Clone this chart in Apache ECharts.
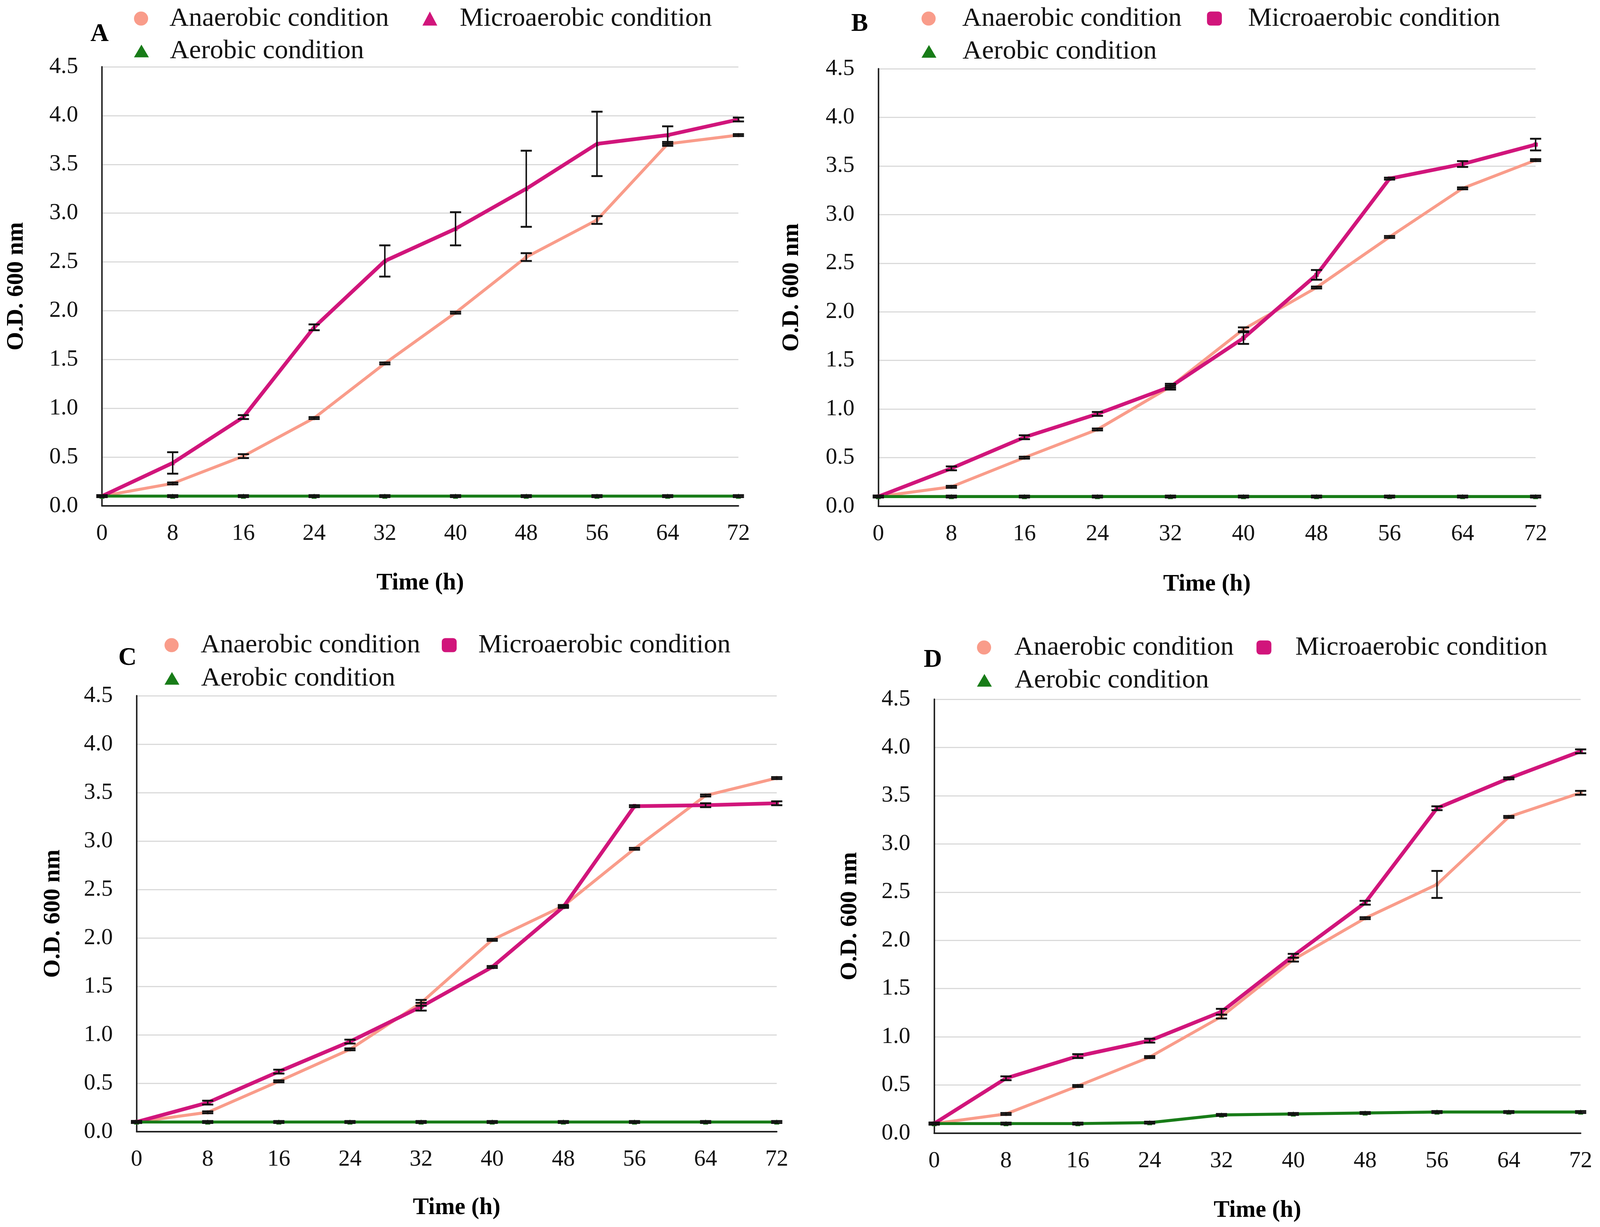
<!DOCTYPE html>
<html>
<head>
<meta charset="utf-8">
<script src="https://cdn.jsdelivr.net/npm/echarts@6/dist/echarts.min.js"></script>
<style>
html,body{margin:0;padding:0;background:#fff;overflow:hidden;}
#chart{position:absolute;left:0;top:0;}
</style>
</head>
<body>
<div id="chart"></div>
<script>
// ---- data ----
const times = [0, 8, 16, 24, 32, 40, 48, 56, 64, 72];
const seriesNames = ['Anaerobic condition', 'Microaerobic condition', 'Aerobic condition'];
const panelLetters = ['A', 'B', 'C', 'D'];

const aAnaerobic    = [0.10, 0.23, 0.51, 0.90, 1.46, 1.98, 2.55, 2.93, 3.71, 3.80];
const aAnaerobicErr = [0.01, 0.01, 0.02, 0.01, 0.01, 0.01, 0.04, 0.04, 0.02, 0.01];
const aMicro        = [0.10, 0.44, 0.91, 1.83, 2.51, 2.84, 3.25, 3.71, 3.80, 3.96];
const aMicroErr     = [0.01, 0.11, 0.02, 0.03, 0.16, 0.17, 0.39, 0.33, 0.09, 0.02];
const aAerobic      = [0.10, 0.10, 0.10, 0.10, 0.10, 0.10, 0.10, 0.10, 0.10, 0.10];
const aAerobicErr   = [0.01, 0.01, 0.01, 0.01, 0.01, 0.01, 0.01, 0.01, 0.01, 0.01];

const bAnaerobic    = [0.10, 0.20, 0.50, 0.79, 1.23, 1.82, 2.25, 2.77, 3.27, 3.56];
const bAnaerobicErr = [0.01, 0.01, 0.01, 0.01, 0.01, 0.02, 0.01, 0.01, 0.01, 0.01];
const bMicro        = [0.10, 0.39, 0.71, 0.95, 1.23, 1.73, 2.38, 3.37, 3.52, 3.72];
const bMicroErr     = [0.01, 0.02, 0.02, 0.02, 0.03, 0.06, 0.05, 0.01, 0.03, 0.06];
const bAerobic      = [0.10, 0.10, 0.10, 0.10, 0.10, 0.10, 0.10, 0.10, 0.10, 0.10];
const bAerobicErr   = [0.01, 0.01, 0.01, 0.01, 0.01, 0.01, 0.01, 0.01, 0.01, 0.01];

const cAnaerobic    = [0.10, 0.20, 0.52, 0.85, 1.33, 1.98, 2.33, 2.92, 3.47, 3.65];
const cAnaerobicErr = [0.01, 0.01, 0.01, 0.01, 0.03, 0.01, 0.01, 0.01, 0.01, 0.01];
const cMicro        = [0.10, 0.30, 0.62, 0.93, 1.29, 1.70, 2.32, 3.36, 3.37, 3.39];
const cMicroErr     = [0.01, 0.02, 0.02, 0.02, 0.04, 0.01, 0.01, 0.01, 0.02, 0.02];
const cAerobic      = [0.10, 0.10, 0.10, 0.10, 0.10, 0.10, 0.10, 0.10, 0.10, 0.10];
const cAerobicErr   = [0.01, 0.01, 0.01, 0.01, 0.01, 0.01, 0.01, 0.01, 0.01, 0.01];

const dAnaerobic    = [0.10, 0.20, 0.49, 0.79, 1.21, 1.80, 2.23, 2.58, 3.28, 3.53];
const dAnaerobicErr = [0.01, 0.01, 0.01, 0.01, 0.02, 0.02, 0.01, 0.14, 0.01, 0.02];
const dMicro        = [0.10, 0.57, 0.80, 0.96, 1.26, 1.84, 2.39, 3.37, 3.68, 3.96];
const dMicroErr     = [0.01, 0.02, 0.02, 0.02, 0.03, 0.02, 0.02, 0.02, 0.01, 0.02];
const dAerobic      = [0.10, 0.10, 0.10, 0.11, 0.19, 0.20, 0.21, 0.22, 0.22, 0.22];
const dAerobicErr   = [0.01, 0.01, 0.01, 0.01, 0.01, 0.01, 0.01, 0.01, 0.01, 0.01];

// ---- layout (designed for 4299 x 3141, scaled to the actual viewport) ----
const BASE_W = 4299, BASE_H = 3141;
const VW = window.innerWidth || document.documentElement.clientWidth || BASE_W;
const VH = window.innerHeight || document.documentElement.clientHeight || BASE_H;
const sx = VW / BASE_W, sy = VH / BASE_H, sf = Math.min(sx, sy);
const X = v => v * sx, Y = v => v * sy, F = v => v * sf;

const FONT = 'Liberation Serif';
const colors = ['#F99C8A', '#D1157B', '#187C18'];
const lineWidths = [8, 10, 8];

const panels = [
  { values: [aAnaerobic, aMicro, aAerobic], errs: [aAnaerobicErr, aMicroErr, aAerobicErr],
    grid: { left: 274, top: 171, width: 1710, height: 1124 },
    symbols: ['circle', 'triangle', 'triangle'],
    title: { left: 243, top: 56 },
    legendRows: [13, 96], legendX: [[360, 51], [1135, 55]],
    yNameGap: 198, xNameGap: 168 },
  { values: [bAnaerobic, bMicro, bAerobic], errs: [bAnaerobicErr, bMicroErr, bAerobicErr],
    grid: { left: 2360, top: 176, width: 1766, height: 1120 },
    symbols: ['circle', 'roundRect', 'triangle'],
    title: { left: 2287, top: 30 },
    legendRows: [13, 97], legendX: [[2476, 65], [3243, 65]],
    yNameGap: 200, xNameGap: 170 },
  { values: [cAnaerobic, cMicro, cAerobic], errs: [cAnaerobicErr, cMicroErr, cAerobicErr],
    grid: { left: 367, top: 1781, width: 1720, height: 1116 },
    symbols: ['circle', 'roundRect', 'triangle'],
    title: { left: 318, top: 1653 },
    legendRows: [1617, 1702], legendX: [[442, 53], [1187, 53]],
    yNameGap: 192, xNameGap: 165 },
  { values: [dAnaerobic, dMicro, dAerobic], errs: [dAnaerobicErr, dMicroErr, dAerobicErr],
    grid: { left: 2510, top: 1790, width: 1737, height: 1111 },
    symbols: ['circle', 'roundRect', 'triangle'],
    title: { left: 2482, top: 1658 },
    legendRows: [1623, 1707], legendX: [[2625, 56], [3376, 59]],
    yNameGap: 194, xNameGap: 168 }
];

function errorBarRender(params, api) {
  const x = api.value(0);
  const lo = api.coord([x, api.value(1)]);
  const hi = api.coord([x, api.value(2)]);
  const hw = F(15);
  const st = { stroke: '#121212', lineWidth: F(4) };
  const cap = { stroke: '#121212', lineWidth: F(5) };
  return {
    type: 'group',
    children: [
      { type: 'line', shape: { x1: lo[0], y1: lo[1], x2: hi[0], y2: hi[1] }, style: st },
      { type: 'line', shape: { x1: lo[0] - hw, y1: lo[1], x2: lo[0] + hw, y2: lo[1] }, style: cap },
      { type: 'line', shape: { x1: hi[0] - hw, y1: hi[1], x2: hi[0] + hw, y2: hi[1] }, style: cap }
    ]
  };
}

const option = {
  animation: false,
  backgroundColor: '#ffffff',
  title: [], grid: [], xAxis: [], yAxis: [], legend: [], series: []
};

panels.forEach((p, pi) => {
  option.title.push({
    text: panelLetters[pi], left: X(p.title.left), top: Y(p.title.top), padding: 0,
    textStyle: { fontFamily: FONT, fontSize: F(68), fontWeight: 'bold', color: '#000' }
  });
  option.grid.push({ left: X(p.grid.left), top: Y(p.grid.top),
    width: X(p.grid.width), height: Y(p.grid.height), containLabel: false });
  option.xAxis.push({
    type: 'value', gridIndex: pi, min: 0, max: 72, interval: 8,
    name: 'Time (h)', nameLocation: 'middle', nameGap: Y(p.xNameGap),
    nameTextStyle: { fontFamily: FONT, fontSize: F(64), fontWeight: 'bold', color: '#000' },
    axisLine: { show: true, onZero: false, lineStyle: { color: '#222', width: F(4) } },
    axisTick: { show: false },
    splitLine: { show: false },
    axisLabel: { fontFamily: FONT, fontSize: F(62), color: '#111', margin: Y(42) }
  });
  option.yAxis.push({
    type: 'value', gridIndex: pi, min: 0, max: 4.5, interval: 0.5,
    name: 'O.D. 600 nm', nameLocation: 'middle', nameGap: X(p.yNameGap), nameRotate: 90,
    nameTextStyle: { fontFamily: FONT, fontSize: F(64), fontWeight: 'bold', color: '#000' },
    axisLine: { show: true, lineStyle: { color: '#222', width: F(4) } },
    axisTick: { show: false },
    splitLine: { show: true, lineStyle: { color: '#dadada', width: F(3) } },
    axisLabel: { fontFamily: FONT, fontSize: F(62), color: '#111', margin: X(64),
      formatter: v => v.toFixed(1) }
  });

  const legendPos = [
    { left: p.legendX[0][0], top: p.legendRows[0], pad: p.legendX[0][1] },
    { left: p.legendX[1][0], top: p.legendRows[0], pad: p.legendX[1][1] },
    { left: p.legendX[0][0], top: p.legendRows[1], pad: p.legendX[0][1] }
  ];
  seriesNames.forEach((nm, si) => {
    const lp = legendPos[si];
    option.legend.push({
      data: [{ name: nm, icon: p.symbols[si] }],
      left: X(lp.left), top: Y(lp.top), padding: 0,
      itemWidth: F(40), itemHeight: F(si === 2 ? 34 : 38),
      selectedMode: false,
      textStyle: { fontFamily: FONT, fontSize: F(72), color: '#111', lineHeight: F(72),
        padding: [0, 0, 0, X(lp.pad)] }
    });
  });

  seriesNames.forEach((nm, si) => {
    option.series.push({
      name: nm, type: 'line', xAxisIndex: pi, yAxisIndex: pi,
      data: times.map((t, i) => [t, p.values[si][i]]),
      symbol: p.symbols[si], symbolSize: F(si === 2 ? 14 : 12), showSymbol: true,
      lineStyle: { color: colors[si], width: F(lineWidths[si]) },
      itemStyle: { color: colors[si] },
      z: 2 + si
    });
  });
  seriesNames.forEach((nm, si) => {
    option.series.push({
      name: nm, type: 'custom', xAxisIndex: pi, yAxisIndex: pi,
      renderItem: errorBarRender,
      encode: { x: 0, y: [1, 2] },
      data: times.map((t, i) => [t, p.values[si][i] - p.errs[si][i], p.values[si][i] + p.errs[si][i]]),
      z: 10
    });
  });
});

const el = document.getElementById('chart');
el.style.width = VW + 'px';
el.style.height = VH + 'px';
const chart = echarts.init(el, null, { renderer: 'canvas' });
chart.setOption(option);
</script>
</body>
</html>
